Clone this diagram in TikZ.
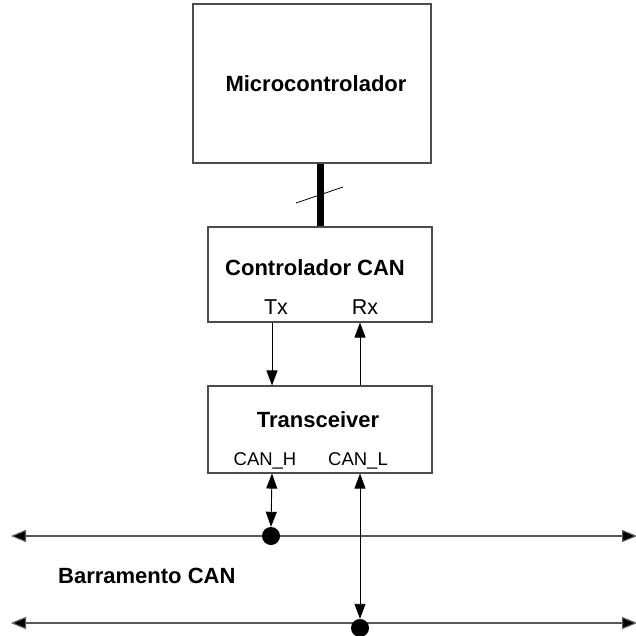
\documentclass[tikz,border=0pt]{standalone}
\usepackage{fontspec}
\setmainfont{Liberation Sans}
\usetikzlibrary{arrows.meta}
\begin{document}
\begin{tikzpicture}[x=1pt,y=-1pt,
  block/.style={draw=black!70,line width=1.1pt,fill=white,inner sep=0pt},
  title/.style={font=\fontsize{22}{24}\selectfont\bfseries,anchor=base,inner sep=0pt},
  pin/.style={font=\fontsize{18.5}{21}\selectfont,anchor=base,inner sep=0pt},
  bigpin/.style={pin,font=\fontsize{21.5}{24}\selectfont},
  sig/.style={line width=0.9pt,-{Triangle[length=15pt,width=11pt]}},
  bidir/.style={line width=0.9pt,{Triangle[length=15pt,width=11pt]}-{Triangle[length=15pt,width=11pt]}},
  bus/.style={draw=black!65,line width=1.1pt,{Triangle[length=15pt,width=12pt,fill=black]}-{Triangle[length=15pt,width=12pt,fill=black]}},
  junction/.style={circle,fill=black,inner sep=0pt,minimum size=18pt}]
\useasboundingbox (0,0) rectangle (635,636);

% blocks
\node[block,minimum width=238pt,minimum height=159pt] (micro) at (312,83.5) {};
\node[block,minimum width=224pt,minimum height=95pt] (ctrl) at (320,274.5) {};
\node[block,minimum width=224pt,minimum height=87pt] (trx) at (320,429.5) {};

% block titles and pin names
\node[title] (microlbl) at (316,92) {Microcontrolador};
\node[title] (ctrllbl) at (315,275) {Controlador CAN};
\node[bigpin] (txlbl) at (276,314) {Tx};
\node[bigpin] (rxlbl) at (365,314) {Rx};
\node[title] (trxlbl) at (318,427) {Transceiver};
\node[pin] (canhlbl) at (265,465) {CAN\_H};
\node[pin] (canllbl) at (358,465) {CAN\_L};
\node[title,anchor=base west] (buslbl) at (58,583) {Barramento CAN};

% pin columns
\coordinate (tx) at (272,0);
\coordinate (rx) at (360,0);

% parallel data bus between microcontroller and CAN controller
\draw[line width=7pt] (ctrl.north) -- (ctrl.north |- micro.south);
\coordinate (slashA) at (296,203);
\coordinate (slashB) at (343,187);
\draw[line width=0.8pt] (slashA) -- (slashB);

% Tx / Rx lines
\draw[sig] (ctrl.south -| tx) -- (trx.north -| tx);
\draw[sig] (trx.north -| rx) -- (ctrl.south -| rx);

% CAN bus wires
\coordinate (hL) at (11,536);
\coordinate (hR) at (637,536);
\coordinate (lL) at (11,623);
\coordinate (lR) at (637,623);
\draw[bus] (hL) -- (hR);
\draw[bus] (lL) -- (lR);

% junctions
\node[junction] (jh) at (271,536) {};
\node[junction] (jl) at (360,628) {};

% transceiver to bus
\draw[bidir] (trx.south -| tx) -- (jh.north);
\draw[bidir] (trx.south -| rx) -- (jl.north);
\end{tikzpicture}
\end{document}
